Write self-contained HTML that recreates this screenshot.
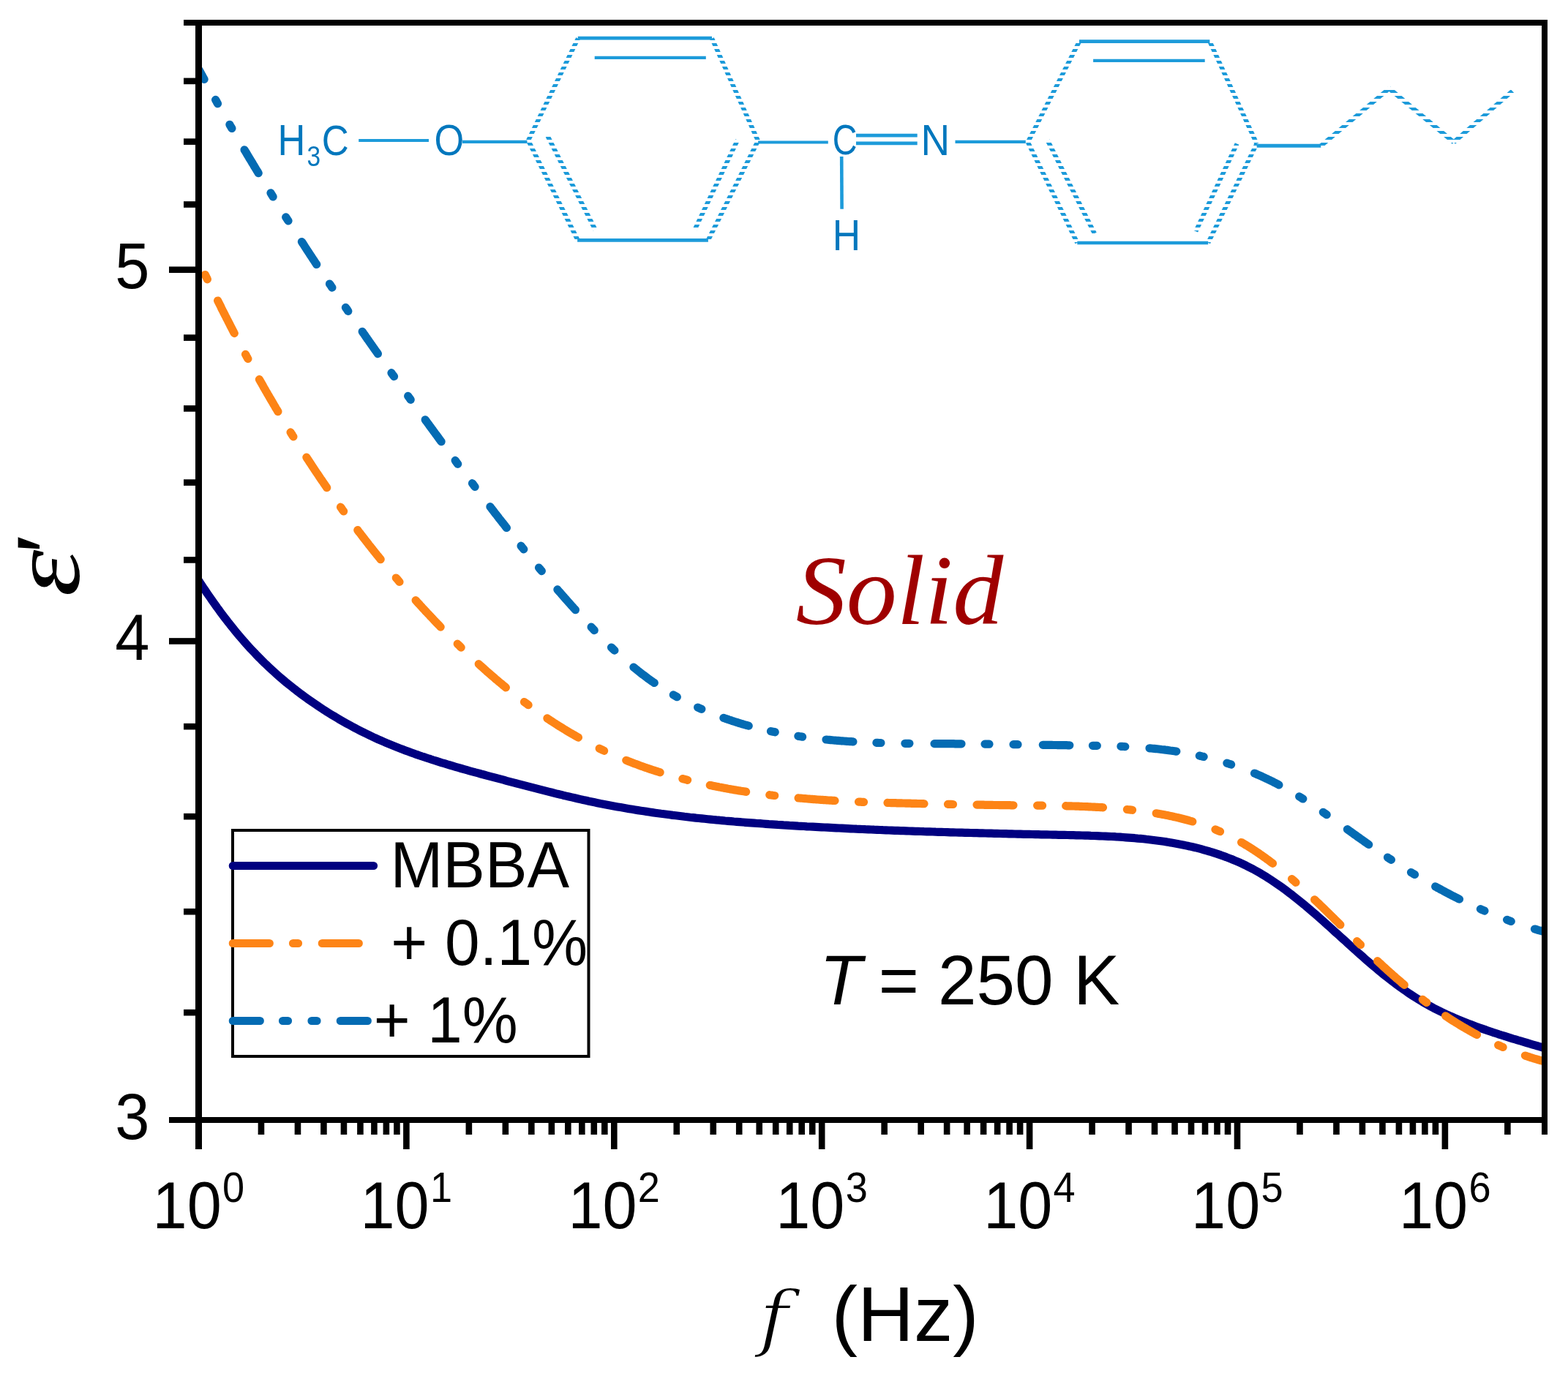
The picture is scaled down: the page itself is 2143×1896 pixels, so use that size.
<!DOCTYPE html>
<html><head><meta charset="utf-8"><title>MBBA dielectric permittivity</title>
<style>html,body{margin:0;padding:0;background:#fff;overflow:hidden}svg{display:block}</style>
</head><body>
<svg width="2143" height="1896" viewBox="0 0 2143 1896">
<rect width="2143" height="1896" fill="#fff"/>
<defs><clipPath id="plotclip"><rect x="271" y="31" width="1840" height="1500"/></clipPath></defs>
<g clip-path="url(#plotclip)" fill="none" stroke-linecap="round" stroke-linejoin="round" stroke-width="11.2">
<path d="M271.9 794.2L274.1 797.5L276.3 800.8L278.5 804.2L280.8 807.5L283.0 810.8L285.3 814.1L287.6 817.4L289.9 820.7L292.2 823.9L294.5 827.2L296.8 830.5L299.2 833.7L301.5 836.9L303.9 840.1L306.3 843.3L308.8 846.5L311.2 849.7L313.7 852.8L316.2 856.0L318.7 859.1L321.2 862.2L323.7 865.3L326.3 868.4L328.9 871.4L331.5 874.4L334.2 877.5L336.8 880.4L339.5 883.4L342.2 886.4L344.9 889.3L347.7 892.2L350.4 895.1L353.2 898.0L356.0 900.8L358.9 903.7L361.7 906.5L364.6 909.2L367.5 912.0L370.4 914.7L373.4 917.4L376.4 920.1L379.4 922.8L382.4 925.4L385.4 928.0L388.5 930.6L391.5 933.2L394.6 935.7L397.8 938.2L400.9 940.7L404.1 943.1L407.2 945.6L410.4 948.0L413.7 950.4L416.9 952.7L420.1 955.1L423.4 957.4L426.7 959.7L430.0 961.9L433.3 964.2L436.6 966.4L440.0 968.6L443.3 970.8L446.7 972.9L450.1 975.1L453.5 977.2L456.9 979.2L460.4 981.3L463.8 983.3L467.3 985.3L470.8 987.3L474.3 989.3L477.8 991.2L481.3 993.1L484.8 995.0L488.4 996.9L491.9 998.7L495.5 1000.5L499.1 1002.3L502.7 1004.0L506.3 1005.8L509.9 1007.5L513.5 1009.1L517.2 1010.8L520.9 1012.4L524.5 1014.0L528.2 1015.6L531.9 1017.1L535.6 1018.6L539.3 1020.1L543.0 1021.6L546.8 1023.1L550.5 1024.5L554.2 1025.9L558.0 1027.3L561.8 1028.7L565.5 1030.0L569.3 1031.4L573.1 1032.7L576.9 1034.0L580.7 1035.2L584.5 1036.5L588.3 1037.7L592.1 1039.0L595.9 1040.2L599.7 1041.4L603.5 1042.6L607.4 1043.7L611.2 1044.9L615.0 1046.0L618.9 1047.2L622.7 1048.3L626.6 1049.4L630.4 1050.5L634.3 1051.6L638.1 1052.7L642.0 1053.8L645.8 1054.8L649.7 1055.9L653.6 1056.9L657.4 1058.0L661.3 1059.0L665.2 1060.1L669.0 1061.1L672.9 1062.1L676.8 1063.2L680.6 1064.2L684.5 1065.2L688.4 1066.2L692.2 1067.3L696.1 1068.3L700.0 1069.3L703.9 1070.3L707.7 1071.4L711.6 1072.4L715.5 1073.4L719.3 1074.4L723.2 1075.4L727.1 1076.4L731.0 1077.4L734.8 1078.4L738.7 1079.4L742.6 1080.4L746.5 1081.4L750.4 1082.4L754.2 1083.3L758.1 1084.3L762.0 1085.3L765.9 1086.2L769.8 1087.2L773.7 1088.1L777.6 1089.0L781.5 1089.9L785.4 1090.8L789.3 1091.7L793.2 1092.6L797.1 1093.5L801.0 1094.3L804.9 1095.2L808.8 1096.0L812.7 1096.8L816.7 1097.7L820.6 1098.5L824.5 1099.2L828.4 1100.0L832.4 1100.8L836.3 1101.5L840.2 1102.2L844.2 1102.9L848.1 1103.6L852.1 1104.3L856.0 1105.0L860.0 1105.7L863.9 1106.3L867.9 1107.0L871.8 1107.6L875.8 1108.2L879.7 1108.8L883.7 1109.4L887.6 1110.0L891.6 1110.6L895.6 1111.2L899.5 1111.7L903.5 1112.3L907.5 1112.8L911.4 1113.3L915.4 1113.8L919.4 1114.4L923.3 1114.8L927.3 1115.3L931.3 1115.8L935.3 1116.3L939.2 1116.7L943.2 1117.2L947.2 1117.6L951.2 1118.1L955.2 1118.5L959.1 1118.9L963.1 1119.3L967.1 1119.7L971.1 1120.1L975.1 1120.5L979.1 1120.9L983.1 1121.2L987.0 1121.6L991.0 1122.0L995.0 1122.3L999.0 1122.6L1003.0 1123.0L1007.0 1123.3L1011.0 1123.6L1015.0 1124.0L1019.0 1124.3L1022.9 1124.6L1026.9 1124.9L1030.9 1125.2L1034.9 1125.5L1038.9 1125.7L1042.9 1126.0L1046.9 1126.3L1050.9 1126.6L1054.9 1126.8L1058.9 1127.1L1062.9 1127.4L1066.9 1127.6L1070.9 1127.9L1074.9 1128.1L1078.9 1128.4L1082.9 1128.6L1086.9 1128.8L1090.9 1129.1L1094.8 1129.3L1098.8 1129.5L1102.8 1129.8L1106.8 1130.0L1110.8 1130.2L1114.8 1130.4L1118.8 1130.6L1122.8 1130.8L1126.8 1131.0L1130.8 1131.2L1134.8 1131.4L1138.8 1131.6L1142.8 1131.8L1146.8 1132.0L1150.8 1132.2L1154.8 1132.4L1158.8 1132.6L1162.8 1132.8L1166.8 1133.0L1170.8 1133.2L1174.8 1133.3L1178.8 1133.5L1182.8 1133.7L1186.8 1133.8L1190.8 1134.0L1194.8 1134.2L1198.8 1134.3L1202.8 1134.5L1206.8 1134.7L1210.8 1134.8L1214.8 1135.0L1218.8 1135.1L1222.8 1135.3L1226.8 1135.4L1230.8 1135.6L1234.8 1135.7L1238.8 1135.8L1242.8 1136.0L1246.8 1136.1L1250.8 1136.3L1254.8 1136.4L1258.8 1136.5L1262.8 1136.7L1266.8 1136.8L1270.8 1136.9L1274.8 1137.0L1278.8 1137.2L1282.8 1137.3L1286.8 1137.4L1290.8 1137.5L1294.8 1137.6L1298.8 1137.8L1302.8 1137.9L1306.8 1138.0L1310.8 1138.1L1314.8 1138.2L1318.8 1138.3L1322.8 1138.4L1326.8 1138.5L1330.8 1138.6L1334.8 1138.7L1338.8 1138.8L1342.8 1138.9L1346.9 1139.0L1350.9 1139.1L1354.9 1139.2L1358.9 1139.3L1362.9 1139.4L1366.9 1139.5L1370.9 1139.6L1374.9 1139.7L1378.9 1139.8L1382.9 1139.9L1386.9 1140.0L1390.9 1140.1L1394.9 1140.2L1398.9 1140.3L1402.9 1140.4L1406.9 1140.4L1410.9 1140.5L1414.9 1140.6L1418.9 1140.7L1422.9 1140.8L1426.9 1140.9L1430.9 1140.9L1434.9 1141.0L1438.9 1141.1L1442.9 1141.2L1446.9 1141.3L1450.9 1141.4L1454.9 1141.4L1458.9 1141.5L1462.9 1141.6L1466.9 1141.7L1470.9 1141.8L1474.9 1141.9L1478.9 1142.0L1482.9 1142.1L1486.9 1142.2L1490.9 1142.4L1494.9 1142.5L1498.9 1142.6L1502.9 1142.8L1506.9 1143.0L1510.9 1143.1L1514.9 1143.3L1518.9 1143.5L1522.9 1143.7L1526.9 1144.0L1530.9 1144.2L1534.9 1144.5L1538.9 1144.8L1542.9 1145.1L1546.9 1145.4L1550.9 1145.7L1554.9 1146.1L1558.8 1146.4L1562.8 1146.8L1566.8 1147.3L1570.8 1147.7L1574.8 1148.2L1578.7 1148.7L1582.7 1149.2L1586.7 1149.8L1590.6 1150.3L1594.6 1150.9L1598.5 1151.6L1602.5 1152.2L1606.4 1152.9L1610.4 1153.7L1614.3 1154.4L1618.2 1155.2L1622.1 1156.1L1626.0 1156.9L1629.9 1157.8L1633.8 1158.7L1637.7 1159.7L1641.6 1160.7L1645.5 1161.8L1649.3 1162.9L1653.2 1164.0L1657.0 1165.2L1660.8 1166.4L1664.6 1167.6L1668.4 1168.9L1672.2 1170.3L1675.9 1171.6L1679.7 1173.1L1683.4 1174.5L1687.1 1176.1L1690.8 1177.6L1694.4 1179.2L1698.1 1180.9L1701.7 1182.6L1705.3 1184.4L1708.9 1186.2L1712.4 1188.0L1715.9 1190.0L1719.4 1191.9L1722.9 1193.9L1726.3 1196.0L1729.7 1198.1L1733.1 1200.2L1736.5 1202.4L1739.8 1204.6L1743.1 1206.8L1746.4 1209.1L1749.7 1211.4L1753.0 1213.7L1756.2 1216.1L1759.4 1218.5L1762.6 1220.9L1765.8 1223.3L1768.9 1225.8L1772.1 1228.3L1775.2 1230.8L1778.3 1233.3L1781.4 1235.9L1784.5 1238.4L1787.5 1241.0L1790.6 1243.6L1793.6 1246.2L1796.6 1248.8L1799.7 1251.4L1802.7 1254.1L1805.7 1256.7L1808.7 1259.4L1811.6 1262.1L1814.6 1264.7L1817.6 1267.4L1820.6 1270.1L1823.5 1272.8L1826.5 1275.5L1829.5 1278.2L1832.4 1280.8L1835.4 1283.5L1838.4 1286.2L1841.3 1288.9L1844.3 1291.6L1847.3 1294.3L1850.2 1297.0L1853.2 1299.6L1856.2 1302.3L1859.2 1305.0L1862.2 1307.6L1865.2 1310.3L1868.2 1312.9L1871.2 1315.5L1874.3 1318.1L1877.3 1320.7L1880.4 1323.3L1883.5 1325.9L1886.5 1328.4L1889.6 1331.0L1892.8 1333.5L1895.9 1336.0L1899.0 1338.4L1902.2 1340.9L1905.4 1343.3L1908.6 1345.7L1911.8 1348.1L1915.1 1350.4L1918.3 1352.7L1921.6 1355.0L1924.9 1357.3L1928.2 1359.5L1931.6 1361.7L1935.0 1363.9L1938.4 1366.0L1941.8 1368.1L1945.2 1370.1L1948.7 1372.1L1952.2 1374.1L1955.7 1376.0L1959.2 1377.9L1962.8 1379.7L1966.4 1381.5L1970.0 1383.3L1973.6 1385.0L1977.2 1386.7L1980.8 1388.4L1984.5 1390.0L1988.2 1391.6L1991.8 1393.2L1995.5 1394.7L1999.2 1396.2L2003.0 1397.7L2006.7 1399.2L2010.4 1400.6L2014.2 1402.0L2017.9 1403.4L2021.7 1404.8L2025.5 1406.1L2029.2 1407.4L2033.0 1408.7L2036.8 1410.0L2040.6 1411.3L2044.4 1412.5L2048.2 1413.8L2052.0 1415.0L2055.8 1416.2L2059.7 1417.4L2063.5 1418.6L2067.3 1419.8L2071.2 1420.9L2075.0 1422.1L2078.8 1423.2L2082.7 1424.4L2086.5 1425.5L2090.3 1426.6L2094.2 1427.8L2098.0 1428.9L2101.9 1430.0L2105.7 1431.2L2109.5 1432.3" stroke="#000080"/>
<path d="M280.4 375.5L280.6 375.9L281.5 377.7L282.3 379.5L283.2 381.3L283.4 381.8M297.6 411.0L298.1 411.9L299.0 413.7L299.9 415.5L300.8 417.3L301.7 419.1L302.5 420.9L303.4 422.7L304.3 424.5L305.2 426.2L306.1 428.0L307.0 429.8L307.9 431.6L308.9 433.4L309.8 435.2L310.7 437.0L311.6 438.7L312.5 440.5L313.4 442.3L314.3 444.1L315.2 445.9L316.1 447.6L317.1 449.4L318.0 451.2L318.9 453.0L319.8 454.8L320.3 455.6M335.5 484.4L335.8 484.8L336.7 486.6L337.7 488.3L338.6 490.1L338.9 490.5M354.4 518.6L355.1 519.9L356.1 521.6L357.1 523.3L358.1 525.1L359.1 526.8L360.0 528.6L361.0 530.3L362.0 532.0L363.0 533.8L364.0 535.5L365.0 537.2L366.0 539.0L367.0 540.7L368.0 542.4L369.0 544.2L370.0 545.9L371.1 547.6L372.1 549.3L373.1 551.1L374.1 552.8L375.1 554.5L376.1 556.2L377.1 558.0L378.2 559.7L379.2 561.4L379.9 562.6M397.1 590.9L397.9 592.2L399.0 593.9L400.0 595.6L400.9 596.9M418.9 625.1L419.4 626.0L420.5 627.6L421.6 629.3L422.7 631.0L423.8 632.6L424.9 634.3L426.0 636.0L427.1 637.7L428.2 639.3L429.3 641.0L430.4 642.7L431.5 644.3L432.6 646.0L433.8 647.6L434.9 649.3L436.0 651.0L437.1 652.6L438.2 654.3L439.4 655.9L440.5 657.6L441.6 659.2L442.8 660.9L443.9 662.5L445.0 664.2L446.2 665.8L446.7 666.7M465.5 693.2L465.8 693.6L467.0 695.2L468.1 696.9L469.3 698.5L469.6 698.9M488.8 724.6L489.6 725.8L490.8 727.4L492.1 728.9L493.3 730.5L494.5 732.1L495.7 733.7L496.9 735.3L498.2 736.9L499.4 738.5L500.6 740.0L501.9 741.6L503.1 743.2L504.3 744.8L505.6 746.3L506.8 747.9L508.0 749.5L509.3 751.0L510.5 752.6L511.8 754.2L513.0 755.7L514.3 757.3L515.5 758.9L516.8 760.4L518.1 762.0L519.3 763.5L520.2 764.6M541.3 790.0L542.4 791.2L543.7 792.7L545.0 794.3L546.0 795.4M568.1 820.6L568.8 821.3L570.1 822.8L571.4 824.3L572.8 825.7L574.1 827.2L575.5 828.7L576.8 830.2L578.2 831.7L579.6 833.1L580.9 834.6L582.3 836.1L583.6 837.5L585.0 839.0L586.4 840.4L587.7 841.9L589.1 843.4L590.5 844.8L591.9 846.3L593.2 847.7L594.6 849.2L596.0 850.6L597.4 852.1L598.8 853.5L600.2 854.9L601.5 856.4L602.2 857.1M625.2 880.2L625.5 880.5L627.0 881.9L628.4 883.3L629.8 884.7L630.2 885.1M654.2 907.6L654.6 908.0L656.1 909.4L657.6 910.7L659.1 912.0L660.6 913.4L662.0 914.7L663.5 916.0L665.0 917.4L666.5 918.7L668.0 920.0L669.5 921.3L671.1 922.7L672.6 924.0L674.1 925.3L675.6 926.6L677.1 927.9L678.6 929.2L680.2 930.5L681.7 931.8L683.2 933.0L684.8 934.3L686.3 935.6L687.8 936.9L689.4 938.2L690.9 939.4L691.4 939.8M716.5 959.6L717.7 960.4L719.3 961.6L720.9 962.8L722.1 963.7M747.9 981.9L748.7 982.5L750.4 983.6L752.0 984.7L753.7 985.8L755.4 986.9L757.0 988.0L758.7 989.0L760.4 990.1L762.1 991.2L763.8 992.3L765.5 993.3L767.2 994.4L768.9 995.4L770.6 996.5L772.3 997.5L774.0 998.6L775.7 999.6L777.4 1000.6L779.2 1001.7L780.9 1002.7L782.6 1003.7L784.4 1004.7L786.1 1005.7L787.8 1006.7L789.6 1007.7L790.4 1008.1M819.2 1023.2L819.7 1023.4L821.5 1024.3L823.3 1025.2L825.1 1026.0L825.6 1026.3M855.8 1039.4L856.3 1039.6L858.2 1040.3L860.0 1041.1L861.9 1041.8L863.8 1042.5L865.6 1043.2L867.5 1043.9L869.4 1044.6L871.3 1045.3L873.1 1046.0L875.0 1046.7L876.9 1047.4L878.8 1048.0L880.7 1048.7L882.6 1049.4L884.5 1050.0L886.4 1050.7L888.3 1051.3L890.1 1051.9L892.0 1052.6L894.0 1053.2L895.9 1053.8L897.8 1054.4L899.7 1055.0L901.6 1055.6L902.1 1055.8M932.9 1064.6L934.3 1064.9L936.2 1065.4L938.2 1065.9L939.6 1066.3M970.3 1073.4L971.3 1073.6L973.3 1074.0L975.2 1074.4L977.2 1074.8L979.2 1075.2L981.1 1075.6L983.1 1076.0L985.1 1076.3L987.0 1076.7L989.0 1077.1L991.0 1077.4L992.9 1077.8L994.9 1078.2L996.9 1078.5L998.8 1078.9L1000.8 1079.2L1002.8 1079.6L1004.7 1079.9L1006.7 1080.2L1008.7 1080.6L1010.7 1080.9L1012.6 1081.2L1014.6 1081.5L1016.6 1081.8L1018.6 1082.1L1019.6 1082.3M1051.8 1086.7L1052.3 1086.8L1054.3 1087.0L1056.3 1087.3L1058.2 1087.5L1058.7 1087.5M1091.1 1090.9L1092.1 1091.0L1094.1 1091.1L1096.1 1091.3L1098.1 1091.5L1100.1 1091.6L1102.1 1091.8L1104.0 1092.0L1106.0 1092.1L1108.0 1092.3L1110.0 1092.4L1112.0 1092.6L1114.0 1092.7L1116.0 1092.9L1118.0 1093.0L1120.0 1093.2L1122.0 1093.3L1124.0 1093.4L1126.0 1093.6L1128.0 1093.7L1130.0 1093.8L1132.0 1094.0L1134.0 1094.1L1136.0 1094.2L1138.0 1094.3L1140.0 1094.4L1141.0 1094.5M1173.5 1096.1L1174.0 1096.1L1176.0 1096.2L1178.0 1096.3L1180.0 1096.3L1180.5 1096.4M1213.0 1097.4L1214.0 1097.5L1216.0 1097.5L1218.0 1097.6L1220.0 1097.6L1222.0 1097.7L1224.0 1097.7L1226.0 1097.8L1228.0 1097.8L1230.0 1097.9L1232.0 1097.9L1234.0 1098.0L1236.0 1098.0L1238.0 1098.1L1240.0 1098.1L1242.0 1098.2L1244.0 1098.2L1246.0 1098.3L1248.0 1098.3L1250.0 1098.4L1252.0 1098.4L1254.0 1098.5L1256.0 1098.5L1258.0 1098.5L1260.0 1098.6L1262.0 1098.6L1263.0 1098.7M1295.5 1099.3L1296.0 1099.4L1298.0 1099.4L1300.0 1099.4L1302.0 1099.5L1302.5 1099.5M1335.0 1100.1L1336.0 1100.1L1338.0 1100.1L1340.0 1100.2L1342.0 1100.2L1344.0 1100.2L1346.0 1100.3L1348.0 1100.3L1350.0 1100.3L1352.0 1100.4L1354.0 1100.4L1356.0 1100.4L1358.0 1100.5L1360.0 1100.5L1362.0 1100.5L1364.0 1100.5L1366.0 1100.6L1368.0 1100.6L1370.0 1100.6L1372.0 1100.7L1374.0 1100.7L1376.0 1100.7L1378.0 1100.7L1380.0 1100.7L1382.0 1100.8L1384.0 1100.8L1385.0 1100.8M1417.6 1101.1L1418.1 1101.1L1420.1 1101.1L1422.1 1101.2L1424.1 1101.2L1424.6 1101.2M1456.7 1101.7L1458.1 1101.8L1460.1 1101.8L1462.1 1101.9L1464.1 1101.9L1466.1 1102.0L1468.1 1102.0L1470.1 1102.1L1472.1 1102.2L1474.1 1102.2L1476.1 1102.3L1478.1 1102.4L1480.1 1102.5L1482.1 1102.5L1484.1 1102.6L1486.1 1102.7L1488.1 1102.8L1490.1 1102.9L1492.1 1103.0L1494.1 1103.1L1496.1 1103.2L1498.1 1103.3L1500.1 1103.4L1502.1 1103.5L1504.1 1103.6L1506.1 1103.7L1507.5 1103.8M1540.4 1106.5L1542.0 1106.7L1544.0 1106.9L1545.9 1107.1L1547.5 1107.3M1580.2 1111.8L1581.6 1112.0L1583.6 1112.4L1585.6 1112.7L1587.5 1113.1L1589.5 1113.4L1591.5 1113.8L1593.4 1114.2L1595.4 1114.6L1597.4 1115.0L1599.3 1115.4L1601.3 1115.8L1603.2 1116.2L1605.2 1116.7L1607.1 1117.1L1609.1 1117.6L1611.0 1118.0L1613.0 1118.5L1614.9 1119.0L1616.9 1119.5L1618.8 1120.0L1620.7 1120.5L1622.7 1121.0L1624.6 1121.5L1626.5 1122.1L1628.5 1122.6L1629.8 1123.0M1661.0 1133.9L1662.4 1134.5L1664.3 1135.3L1666.1 1136.1L1667.5 1136.7M1696.6 1151.5L1698.2 1152.4L1699.9 1153.4L1701.6 1154.5L1703.4 1155.5L1705.1 1156.5L1706.8 1157.6L1708.5 1158.6L1710.2 1159.7L1711.8 1160.8L1713.5 1161.9L1715.2 1163.0L1716.9 1164.1L1718.5 1165.2L1720.2 1166.3L1721.8 1167.5L1723.5 1168.6L1725.1 1169.7L1726.7 1170.9L1728.4 1172.1L1730.0 1173.2L1731.6 1174.4L1733.2 1175.6L1734.8 1176.8L1736.4 1178.0L1738.0 1179.2L1739.5 1180.3M1765.5 1201.5L1766.0 1201.9L1767.5 1203.2L1769.0 1204.5L1770.5 1205.9L1771.0 1206.3M1796.6 1229.8L1797.1 1230.2L1798.5 1231.6L1800.0 1233.0L1801.4 1234.3L1802.9 1235.7L1804.3 1237.1L1805.7 1238.5L1807.2 1239.9L1808.6 1241.3L1810.0 1242.7L1811.5 1244.1L1812.9 1245.5L1814.3 1246.9L1815.8 1248.3L1817.2 1249.7L1818.6 1251.1L1820.1 1252.5L1821.5 1253.9L1822.9 1255.3L1824.3 1256.7L1825.7 1258.1L1827.2 1259.5L1828.6 1260.9L1830.0 1262.3L1831.4 1263.7L1831.9 1264.2M1854.6 1286.7L1855.6 1287.7L1857.0 1289.1L1858.5 1290.5L1859.5 1291.5M1882.6 1313.7L1883.0 1314.1L1884.5 1315.4L1885.9 1316.8L1887.4 1318.1L1888.9 1319.5L1890.3 1320.9L1891.8 1322.2L1893.3 1323.6L1894.8 1324.9L1896.3 1326.3L1897.7 1327.6L1899.2 1328.9L1900.7 1330.3L1902.2 1331.6L1903.7 1332.9L1905.2 1334.2L1906.7 1335.6L1908.2 1336.9L1909.7 1338.2L1911.3 1339.5L1912.8 1340.8L1914.3 1342.1L1915.8 1343.4L1917.3 1344.7L1918.9 1346.0L1919.3 1346.4M1944.3 1366.4L1945.4 1367.2L1947.0 1368.5L1948.6 1369.7L1949.8 1370.5M1975.6 1388.8L1976.4 1389.3L1978.1 1390.4L1979.7 1391.5L1981.4 1392.6L1983.1 1393.7L1984.8 1394.8L1986.5 1395.8L1988.2 1396.9L1989.9 1398.0L1991.6 1399.0L1993.3 1400.0L1995.0 1401.1L1996.7 1402.1L1998.4 1403.1L2000.1 1404.2L2001.9 1405.2L2003.6 1406.2L2005.3 1407.2L2007.1 1408.2L2008.8 1409.2L2010.6 1410.1L2012.3 1411.1L2014.1 1412.1L2015.8 1413.0L2017.6 1414.0L2018.5 1414.4M2047.7 1428.7L2048.2 1428.9L2050.0 1429.7L2051.8 1430.5L2053.7 1431.3L2054.1 1431.5M2084.4 1443.0L2085.5 1443.4L2087.3 1444.0L2089.2 1444.6L2091.2 1445.3L2093.1 1445.9L2095.0 1446.5L2096.9 1447.1L2098.8 1447.6L2100.7 1448.2L2102.6 1448.8L2104.6 1449.3L2106.5 1449.9L2108.4 1450.4L2110.3 1450.9L2112.3 1451.5" stroke="#FD8416"/>
<path d="M272.1 95.6L273.1 97.4L274.0 99.1L275.0 100.9L275.9 102.7L276.9 104.4L277.8 106.2L278.8 107.9L279.1 108.4M294.6 136.4L295.3 137.7L296.3 139.4L297.2 141.2L297.5 141.7M313.9 170.3L314.1 170.7L315.1 172.5L316.1 174.2L316.9 175.5M334.1 204.8L334.3 205.3L335.4 207.0L336.4 208.7L337.4 210.4L338.4 212.1L339.5 213.9L340.5 215.6L341.5 217.3L342.6 219.0L343.6 220.7L344.6 222.4L345.7 224.1L346.7 225.9L347.7 227.6L348.8 229.3L349.8 231.0L350.8 232.7L351.9 234.4L352.9 236.1L353.2 236.6M370.0 263.8L370.8 265.1L371.8 266.8L372.9 268.5L373.1 268.9M390.7 296.9L391.0 297.3L392.1 299.0L393.2 300.7L394.0 301.9M412.4 330.5L412.7 330.9L413.8 332.6L414.9 334.3L416.0 336.0L417.0 337.6L418.1 339.3L419.2 341.0L420.3 342.7L421.4 344.3L422.5 346.0L423.6 347.7L424.7 349.4L425.8 351.0L426.9 352.7L428.0 354.4L429.1 356.0L430.2 357.7L431.3 359.4L432.4 361.0L432.7 361.5M450.5 388.1L451.4 389.3L452.5 391.0L453.6 392.7L453.9 393.1M472.4 420.4L472.7 420.8L473.9 422.4L475.0 424.1L475.8 425.3M495.2 453.3L495.5 453.7L496.6 455.4L497.8 457.0L498.9 458.6L500.0 460.3L501.2 461.9L502.3 463.6L503.5 465.2L504.6 466.8L505.8 468.5L506.9 470.1L508.1 471.8L509.2 473.4L510.4 475.0L511.5 476.7L512.7 478.3L513.8 479.9L515.0 481.6L516.1 483.2L516.4 483.6M535.0 509.7L535.8 511.0L537.0 512.6L538.2 514.2L538.5 514.6M557.7 541.4L558.0 541.9L559.2 543.5L560.4 545.1L561.2 546.3M581.2 573.8L581.5 574.2L582.7 575.9L583.9 577.5L585.1 579.1L586.2 580.7L587.4 582.3L588.6 583.9L589.8 585.6L591.0 587.2L592.2 588.8L593.3 590.4L594.5 592.0L595.7 593.6L596.9 595.2L598.1 596.8L599.3 598.5L600.4 600.1L601.6 601.7L602.8 603.3L603.1 603.7M622.2 629.4L623.0 630.7L624.2 632.3L625.4 633.9L625.7 634.3M645.5 660.7L645.8 661.1L647.0 662.7L648.2 664.3L649.1 665.5M669.9 692.7L670.1 692.9L671.3 694.5L672.5 696.1L673.8 697.7L675.0 699.3L676.2 700.9L677.4 702.4L678.7 704.0L679.9 705.6L681.1 707.2L682.3 708.8L683.6 710.3L684.8 711.9L686.0 713.5L687.3 715.1L688.5 716.6L689.8 718.2L691.0 719.8L692.2 721.4L692.4 721.5M712.1 746.2L712.2 746.4L713.4 747.9L714.7 749.5L715.8 750.8M736.5 776.0L737.6 777.3L738.9 778.9L740.2 780.4L740.3 780.6M761.9 805.9L762.2 806.3L763.5 807.8L764.8 809.3L766.2 810.8L767.5 812.3L768.8 813.8L770.1 815.3L771.4 816.9L772.7 818.4L774.1 819.9L775.4 821.4L776.7 822.9L778.1 824.3L779.4 825.8L780.7 827.3L782.0 828.8L783.4 830.3L784.7 831.8L786.1 833.3L786.4 833.7M808.1 857.2L809.1 858.3L810.5 859.8L811.9 861.2L812.2 861.6M835.5 885.0L835.9 885.3L837.3 886.7L838.8 888.1L839.9 889.1M865.9 912.1L867.3 913.2L868.9 914.5L870.4 915.7L872.0 917.0L873.5 918.2L875.1 919.5L876.7 920.7L878.3 921.9L879.9 923.1L881.5 924.3L883.1 925.5L884.7 926.7L886.3 927.9L887.9 929.1L889.6 930.2L891.2 931.4L892.8 932.5L894.3 933.5M920.3 949.9L921.6 950.6L923.4 951.6L925.1 952.6L925.3 952.7M953.6 967.0L953.7 967.0L955.5 967.9L957.3 968.7L958.8 969.3M988.9 981.4L988.9 981.4L990.8 982.0L992.7 982.7L994.6 983.3L996.5 984.0L998.4 984.6L1000.3 985.3L1002.2 985.9L1004.1 986.5L1006.0 987.1L1007.9 987.7L1009.8 988.3L1011.7 988.9L1013.6 989.5L1015.5 990.0L1017.5 990.6L1019.4 991.1L1021.3 991.7L1023.2 992.2M1053.5 999.6L1054.3 999.8L1056.3 1000.2L1058.3 1000.6L1059.2 1000.8M1090.9 1006.3L1091.8 1006.5L1093.8 1006.7L1095.7 1007.0L1096.6 1007.2M1129.0 1011.0L1129.5 1011.0L1131.5 1011.2L1133.5 1011.4L1135.5 1011.6L1137.5 1011.8L1139.5 1012.0L1141.5 1012.1L1143.5 1012.3L1145.5 1012.4L1147.5 1012.6L1149.5 1012.8L1151.5 1012.9L1153.5 1013.0L1155.4 1013.2L1157.4 1013.3L1159.4 1013.5L1161.4 1013.6L1163.4 1013.7L1165.4 1013.8L1165.9 1013.9M1197.9 1015.3L1199.4 1015.4L1201.4 1015.5L1203.4 1015.5L1203.9 1015.5M1236.9 1016.3L1237.4 1016.3L1239.4 1016.3L1241.4 1016.3L1242.9 1016.3M1277.0 1016.6L1277.5 1016.6L1279.5 1016.6L1281.5 1016.6L1283.5 1016.7L1285.5 1016.7L1287.5 1016.7L1289.5 1016.7L1291.5 1016.7L1293.5 1016.7L1295.5 1016.7L1297.5 1016.7L1299.5 1016.7L1301.5 1016.7L1303.5 1016.7L1305.5 1016.8L1307.5 1016.8L1309.5 1016.8L1311.5 1016.8L1313.5 1016.8L1314.0 1016.8M1346.0 1017.1L1347.5 1017.1L1349.5 1017.1L1351.5 1017.2L1352.0 1017.2M1385.0 1017.6L1385.5 1017.6L1387.5 1017.7L1389.5 1017.7L1391.0 1017.7M1425.3 1018.3L1425.5 1018.3L1427.5 1018.3L1429.5 1018.3L1431.5 1018.3L1433.5 1018.4L1435.5 1018.4L1437.5 1018.4L1439.5 1018.5L1441.6 1018.5L1443.6 1018.5L1445.6 1018.6L1447.6 1018.6L1449.6 1018.6L1451.6 1018.7L1453.6 1018.7L1455.6 1018.7L1457.6 1018.7L1459.6 1018.8L1461.6 1018.8L1461.8 1018.8M1493.4 1019.3L1493.6 1019.3L1495.6 1019.3L1497.6 1019.3L1499.3 1019.4M1531.9 1020.3L1533.6 1020.4L1535.6 1020.5L1537.6 1020.6L1537.8 1020.6M1571.0 1022.8L1571.5 1022.8L1573.5 1023.0L1575.5 1023.2L1577.5 1023.4L1579.5 1023.6L1581.5 1023.8L1583.5 1024.0L1585.5 1024.2L1587.5 1024.5L1589.4 1024.7L1591.4 1024.9L1593.4 1025.2L1595.4 1025.4L1597.4 1025.7L1599.4 1026.0L1601.4 1026.2L1603.3 1026.5L1605.3 1026.8L1607.3 1027.1L1607.8 1027.2M1639.3 1033.1L1640.7 1033.4L1642.7 1033.9L1644.6 1034.3L1645.1 1034.5M1676.9 1043.2L1677.4 1043.4L1679.3 1044.0L1681.2 1044.6L1682.6 1045.1M1714.5 1057.1L1714.9 1057.2L1716.8 1058.0L1718.6 1058.8L1720.5 1059.6L1722.3 1060.4L1724.1 1061.2L1725.9 1062.1L1727.8 1062.9L1729.6 1063.8L1731.4 1064.6L1733.2 1065.5L1735.0 1066.3L1736.8 1067.2L1738.6 1068.1L1740.4 1069.0L1742.2 1069.9L1743.9 1070.8L1745.7 1071.7L1747.5 1072.7L1747.9 1072.9M1775.7 1088.9L1777.0 1089.6L1778.7 1090.7L1780.3 1091.8L1780.8 1092.0M1808.3 1110.3L1808.7 1110.6L1810.4 1111.7L1812.0 1112.8L1813.2 1113.7M1841.4 1133.7L1843.0 1134.8L1844.6 1136.0L1846.3 1137.2L1847.9 1138.3L1849.5 1139.5L1851.1 1140.7L1852.8 1141.8L1854.4 1143.0L1856.0 1144.2L1857.7 1145.3L1859.3 1146.5L1860.9 1147.6L1862.6 1148.8L1864.2 1149.9L1865.8 1151.1L1867.5 1152.3L1869.1 1153.4L1870.7 1154.5M1896.5 1172.1L1897.2 1172.6L1898.9 1173.7L1900.6 1174.8L1901.4 1175.3M1928.5 1192.5L1929.3 1193.0L1931.0 1194.0L1932.7 1195.1L1933.5 1195.5M1961.7 1211.9L1962.1 1212.1L1963.9 1213.1L1965.6 1214.1L1967.4 1215.0L1969.2 1216.0L1970.9 1216.9L1972.7 1217.9L1974.4 1218.8L1976.2 1219.8L1978.0 1220.7L1979.8 1221.6L1981.5 1222.6L1983.3 1223.5L1985.1 1224.4L1986.9 1225.3L1988.7 1226.2L1990.4 1227.1L1992.2 1228.0L1994.0 1228.9L1994.5 1229.1M2023.4 1242.7L2024.8 1243.3L2026.7 1244.1L2028.5 1244.9L2028.9 1245.1M2059.6 1257.3L2060.1 1257.5L2062.0 1258.2L2063.9 1258.9L2065.2 1259.4M2097.5 1270.0L2098.1 1270.1L2100.0 1270.7L2101.9 1271.3L2103.8 1271.8L2105.8 1272.3L2107.7 1272.9L2109.6 1273.4L2111.6 1273.9" stroke="#046BB3"/>
</g>
<rect x="267" y="27" width="9" height="1544" fill="#000"/>
<rect x="251" y="27" width="1864" height="8" fill="#000"/>
<rect x="2107" y="27" width="8" height="1524" fill="#000"/>
<rect x="231" y="1527" width="1884" height="8" fill="#000"/>
<rect x="231" y="872.15" width="40" height="8.6" fill="#000"/>
<rect x="231" y="364.43" width="40" height="8.6" fill="#000"/>
<rect x="251" y="1379.86" width="20" height="8.6" fill="#000"/>
<rect x="251" y="1241.92" width="20" height="8.6" fill="#000"/>
<rect x="251" y="1111.87" width="20" height="8.6" fill="#000"/>
<rect x="251" y="988.85" width="20" height="8.6" fill="#000"/>
<rect x="251" y="761.14" width="20" height="8.6" fill="#000"/>
<rect x="251" y="655.29" width="20" height="8.6" fill="#000"/>
<rect x="251" y="554.15" width="20" height="8.6" fill="#000"/>
<rect x="251" y="457.32" width="20" height="8.6" fill="#000"/>
<rect x="251" y="275.20" width="20" height="8.6" fill="#000"/>
<rect x="251" y="189.33" width="20" height="8.6" fill="#000"/>
<rect x="251" y="106.58" width="20" height="8.6" fill="#000"/>
<rect x="352.66" y="1531" width="8.6" height="20" fill="#000"/>
<rect x="402.65" y="1531" width="8.6" height="20" fill="#000"/>
<rect x="438.12" y="1531" width="8.6" height="20" fill="#000"/>
<rect x="465.64" y="1531" width="8.6" height="20" fill="#000"/>
<rect x="488.12" y="1531" width="8.6" height="20" fill="#000"/>
<rect x="507.12" y="1531" width="8.6" height="20" fill="#000"/>
<rect x="523.59" y="1531" width="8.6" height="20" fill="#000"/>
<rect x="538.11" y="1531" width="8.6" height="20" fill="#000"/>
<rect x="551.10" y="1531" width="8.6" height="40" fill="#000"/>
<rect x="636.56" y="1531" width="8.6" height="20" fill="#000"/>
<rect x="686.55" y="1531" width="8.6" height="20" fill="#000"/>
<rect x="722.02" y="1531" width="8.6" height="20" fill="#000"/>
<rect x="749.54" y="1531" width="8.6" height="20" fill="#000"/>
<rect x="772.02" y="1531" width="8.6" height="20" fill="#000"/>
<rect x="791.02" y="1531" width="8.6" height="20" fill="#000"/>
<rect x="807.49" y="1531" width="8.6" height="20" fill="#000"/>
<rect x="822.01" y="1531" width="8.6" height="20" fill="#000"/>
<rect x="835.00" y="1531" width="8.6" height="40" fill="#000"/>
<rect x="920.46" y="1531" width="8.6" height="20" fill="#000"/>
<rect x="970.45" y="1531" width="8.6" height="20" fill="#000"/>
<rect x="1005.92" y="1531" width="8.6" height="20" fill="#000"/>
<rect x="1033.44" y="1531" width="8.6" height="20" fill="#000"/>
<rect x="1055.92" y="1531" width="8.6" height="20" fill="#000"/>
<rect x="1074.92" y="1531" width="8.6" height="20" fill="#000"/>
<rect x="1091.39" y="1531" width="8.6" height="20" fill="#000"/>
<rect x="1105.91" y="1531" width="8.6" height="20" fill="#000"/>
<rect x="1118.90" y="1531" width="8.6" height="40" fill="#000"/>
<rect x="1204.36" y="1531" width="8.6" height="20" fill="#000"/>
<rect x="1254.35" y="1531" width="8.6" height="20" fill="#000"/>
<rect x="1289.82" y="1531" width="8.6" height="20" fill="#000"/>
<rect x="1317.34" y="1531" width="8.6" height="20" fill="#000"/>
<rect x="1339.82" y="1531" width="8.6" height="20" fill="#000"/>
<rect x="1358.82" y="1531" width="8.6" height="20" fill="#000"/>
<rect x="1375.29" y="1531" width="8.6" height="20" fill="#000"/>
<rect x="1389.81" y="1531" width="8.6" height="20" fill="#000"/>
<rect x="1402.80" y="1531" width="8.6" height="40" fill="#000"/>
<rect x="1488.26" y="1531" width="8.6" height="20" fill="#000"/>
<rect x="1538.25" y="1531" width="8.6" height="20" fill="#000"/>
<rect x="1573.72" y="1531" width="8.6" height="20" fill="#000"/>
<rect x="1601.24" y="1531" width="8.6" height="20" fill="#000"/>
<rect x="1623.72" y="1531" width="8.6" height="20" fill="#000"/>
<rect x="1642.72" y="1531" width="8.6" height="20" fill="#000"/>
<rect x="1659.19" y="1531" width="8.6" height="20" fill="#000"/>
<rect x="1673.71" y="1531" width="8.6" height="20" fill="#000"/>
<rect x="1686.70" y="1531" width="8.6" height="40" fill="#000"/>
<rect x="1772.16" y="1531" width="8.6" height="20" fill="#000"/>
<rect x="1822.15" y="1531" width="8.6" height="20" fill="#000"/>
<rect x="1857.62" y="1531" width="8.6" height="20" fill="#000"/>
<rect x="1885.14" y="1531" width="8.6" height="20" fill="#000"/>
<rect x="1907.62" y="1531" width="8.6" height="20" fill="#000"/>
<rect x="1926.62" y="1531" width="8.6" height="20" fill="#000"/>
<rect x="1943.09" y="1531" width="8.6" height="20" fill="#000"/>
<rect x="1957.61" y="1531" width="8.6" height="20" fill="#000"/>
<rect x="1970.60" y="1531" width="8.6" height="40" fill="#000"/>
<rect x="2056.06" y="1531" width="8.6" height="20" fill="#000"/>
<text transform="translate(204.48 1556.70) scale(0.955 1)" font-family="'Liberation Sans', Arial, Helvetica, sans-serif" font-size="88.8" fill="#000" text-anchor="end">3</text>
<text transform="translate(204.48 902.15) scale(0.955 1)" font-family="'Liberation Sans', Arial, Helvetica, sans-serif" font-size="88.8" fill="#000" text-anchor="end">4</text>
<text transform="translate(204.48 394.43) scale(0.955 1)" font-family="'Liberation Sans', Arial, Helvetica, sans-serif" font-size="88.8" fill="#000" text-anchor="end">5</text>
<text transform="translate(208.60 1678.90) scale(0.940 1)" font-family="'Liberation Sans', Arial, Helvetica, sans-serif" font-size="90.0" fill="#000">10<tspan font-size="57.6" dx="1.4" dy="-35.7">0</tspan></text>
<text transform="translate(492.50 1678.90) scale(0.940 1)" font-family="'Liberation Sans', Arial, Helvetica, sans-serif" font-size="90.0" fill="#000">10<tspan font-size="57.6" dx="1.4" dy="-35.7">1</tspan></text>
<text transform="translate(776.40 1678.90) scale(0.940 1)" font-family="'Liberation Sans', Arial, Helvetica, sans-serif" font-size="90.0" fill="#000">10<tspan font-size="57.6" dx="1.4" dy="-35.7">2</tspan></text>
<text transform="translate(1060.30 1678.90) scale(0.940 1)" font-family="'Liberation Sans', Arial, Helvetica, sans-serif" font-size="90.0" fill="#000">10<tspan font-size="57.6" dx="1.4" dy="-35.7">3</tspan></text>
<text transform="translate(1344.20 1678.90) scale(0.940 1)" font-family="'Liberation Sans', Arial, Helvetica, sans-serif" font-size="90.0" fill="#000">10<tspan font-size="57.6" dx="1.4" dy="-35.7">4</tspan></text>
<text transform="translate(1628.10 1678.90) scale(0.940 1)" font-family="'Liberation Sans', Arial, Helvetica, sans-serif" font-size="90.0" fill="#000">10<tspan font-size="57.6" dx="1.4" dy="-35.7">5</tspan></text>
<text transform="translate(1912.00 1678.90) scale(0.940 1)" font-family="'Liberation Sans', Arial, Helvetica, sans-serif" font-size="90.0" fill="#000">10<tspan font-size="57.6" dx="1.4" dy="-35.7">6</tspan></text>
<text transform="translate(1037.30 1835.00) scale(1.100 1)" font-family="'DejaVu Serif', 'Liberation Serif', serif" font-size="100.0" fill="#000" font-style="italic" stroke="#fff" stroke-width="2">f</text>
<text transform="translate(1136.40 1832.80) scale(1.006 1)" font-family="'Liberation Sans', Arial, Helvetica, sans-serif" font-size="106.0" fill="#000">(Hz)</text>
<text transform="translate(108.2 815.5) rotate(-90) scale(1.2 1)" font-family="'Liberation Serif', 'Times New Roman', serif" font-style="italic" font-size="135" fill="#000">&#949;<tspan x="39.4" y="-1.6" font-size="124.7">&#39;</tspan></text>
<text transform="translate(1087.70 853.30) scale(1.019 1)" font-family="'Liberation Serif', 'Times New Roman', serif" font-size="135.4" fill="#9F0000" font-style="italic">Solid</text>
<text transform="translate(1120.30 1372.80) scale(0.988 1)" font-family="'Liberation Sans', Arial, Helvetica, sans-serif" font-size="95.6" fill="#000"><tspan font-style="italic">T</tspan><tspan dx="-3.5"> =</tspan><tspan dx="-0.2"> 250</tspan><tspan dx="1.4"> K</tspan></text>
<rect x="318" y="1135" width="486.5" height="309" fill="none" stroke="#000" stroke-width="4"/>
<g stroke-width="11.2" stroke-linecap="round" fill="none">
<line x1="318.3" y1="1183.5" x2="510.5" y2="1183.5" stroke="#000080"/>
<path d="M318.3 1289.5 H368.3 M400.5 1289.5 H407.5 M440.3 1289.5 H490.3" stroke="#FD8416"/>
<path d="M318.3 1395.5 H355.3 M386.5 1395.5 H393.5 M426 1395.5 H433 M465.3 1395.5 H502.3" stroke="#046BB3"/>
</g>
<text transform="translate(533.50 1212.90) scale(0.962 1)" font-family="'Liberation Sans', Arial, Helvetica, sans-serif" font-size="89.7" fill="#000">MBBA</text>
<text transform="translate(534.30 1318.80) scale(0.954 1)" font-family="'Liberation Sans', Arial, Helvetica, sans-serif" font-size="89.7" fill="#000">+ 0.1%</text>
<text transform="translate(510.70 1424.90) scale(0.952 1)" font-family="'Liberation Sans', Arial, Helvetica, sans-serif" font-size="89.7" fill="#000">+ 1%</text>
<defs><pattern id="alias" patternUnits="userSpaceOnUse" x="0" y="3" width="16" height="8"><rect x="0" y="0" width="16" height="4" fill="#1D9BDA"/></pattern></defs>
<g fill="none" stroke="#1D9BDA">
<line x1="490.2" y1="192.0" x2="586.0" y2="192.0" stroke-width="4.2"/>
<line x1="632.0" y1="193.9" x2="720.5" y2="193.9" stroke-width="4.2"/>
<line x1="789.8" y1="52.1" x2="973.0" y2="52.1" stroke-width="4.6"/>
<line x1="812.7" y1="78.9" x2="964.8" y2="78.9" stroke-width="4.4"/>
<line x1="789.1" y1="328.4" x2="967.9" y2="328.4" stroke-width="4.6"/>
<line x1="1036.1" y1="194.6" x2="1131.8" y2="194.6" stroke-width="4.0"/>
<line x1="1170.0" y1="185.2" x2="1253.7" y2="185.2" stroke-width="4.8"/>
<line x1="1170.0" y1="195.8" x2="1253.7" y2="195.8" stroke-width="4.8"/>
<line x1="1305.5" y1="193.9" x2="1401.8" y2="193.9" stroke-width="4.2"/>
<line x1="1150.2" y1="214.1" x2="1150.6" y2="285.8" stroke-width="4.6"/>
<line x1="1475.0" y1="56.6" x2="1653.4" y2="56.6" stroke-width="4.7"/>
<line x1="1494.1" y1="82.9" x2="1646.7" y2="82.9" stroke-width="4.4"/>
<line x1="1472.3" y1="332.0" x2="1651.2" y2="332.0" stroke-width="4.7"/>
<line x1="1717.6" y1="199.3" x2="1805.3" y2="199.3" stroke-width="5.0"/>
</g>
<g fill="none" stroke="url(#alias)" stroke-width="6.2">
<line x1="722.0" y1="192.0" x2="790.0" y2="52.5"/>
<line x1="722.0" y1="192.0" x2="789.5" y2="328.0"/>
<line x1="748.5" y1="186.0" x2="813.5" y2="314.0"/>
<line x1="973.0" y1="52.5" x2="1036.0" y2="192.5"/>
<line x1="1036.0" y1="192.5" x2="968.0" y2="328.0"/>
<line x1="1008.0" y1="191.5" x2="949.5" y2="314.0"/>
<line x1="1404.8" y1="194.3" x2="1475.0" y2="56.8"/>
<line x1="1404.8" y1="194.3" x2="1472.3" y2="331.8"/>
<line x1="1431.8" y1="192.0" x2="1495.9" y2="319.2"/>
<line x1="1653.4" y1="56.8" x2="1717.6" y2="196.5"/>
<line x1="1717.6" y1="196.5" x2="1651.2" y2="331.8"/>
<line x1="1690.6" y1="196.5" x2="1634.3" y2="316.3"/>
<line x1="1805.3" y1="199.3" x2="1898.6" y2="121.0"/>
<line x1="1898.6" y1="121.0" x2="1986.9" y2="194.3"/>
<line x1="1986.9" y1="194.3" x2="2067.0" y2="124.5"/>
</g>
<g font-family="'Liberation Sans', Arial, Helvetica, sans-serif" fill="#0277BD">
<text transform="translate(379.4 211.9) scale(0.88 1)" font-size="59.6">H<tspan x="45.6" y="14.7" font-size="38">3</tspan><tspan x="68.6" y="-0.4" font-size="58.2">C</tspan></text>
<text transform="translate(593.6 212.3) scale(0.884 1)" font-size="59.3">O</text>
<text transform="translate(1137.7 211.3) scale(0.816 1)" font-size="57.2">C</text>
<text transform="translate(1258.5 211.6) scale(0.94 1)" font-size="58.4">N</text>
<text transform="translate(1137.8 341.5) scale(0.91 1)" font-size="58.4">H</text>
</g>
</svg>
</body></html>
